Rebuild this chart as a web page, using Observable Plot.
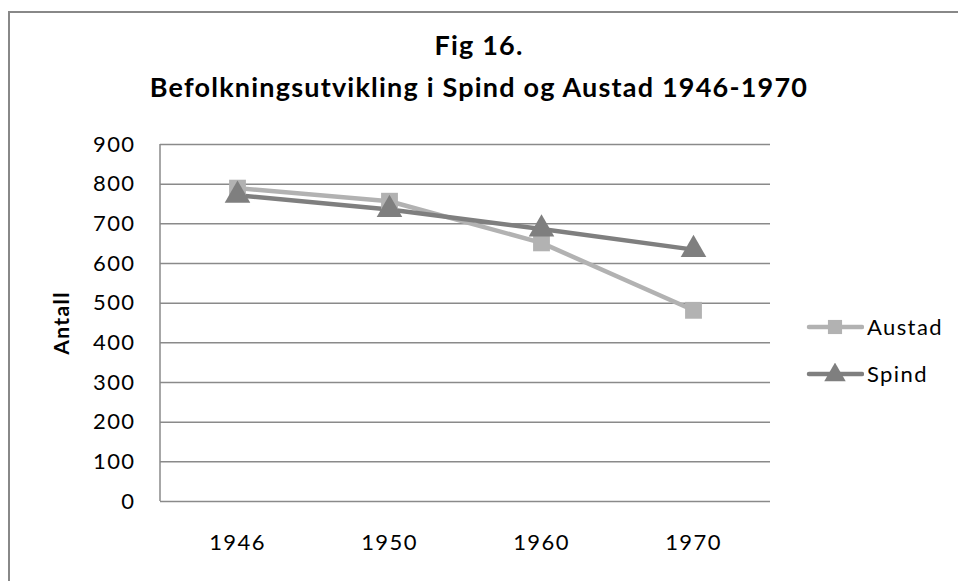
<!DOCTYPE html>
<html>
<head>
<meta charset="utf-8">
<script src="https://cdn.jsdelivr.net/npm/d3@7"></script>
<script src="https://cdn.jsdelivr.net/npm/@observablehq/plot@0.6"></script>
<style>
  html, body { margin: 0; padding: 0; background: #fff; }
  #wrap { position: relative; width: 958px; height: 581px; overflow: hidden; font-family: Lato, "Open Sans", sans-serif; }
  #frame { position: absolute; left: 8px; top: 11px; width: 1000px; height: 1000px; border-left: 2px solid #888; border-top: 2px solid #888; box-sizing: border-box; }
  #title { position: absolute; left: 0; width: 958px; top: 24px; text-align: center; font-weight: bold; font-size: 27px; letter-spacing: 1.2px; line-height: 42px; color: #000; }
  #chart { position: absolute; left: 0; top: 0; }
  #legend { position: absolute; left: 806px; top: 303px; font-size: 22px; letter-spacing: 1.4px; color: #000; }
  .lg { display: flex; align-items: center; height: 47px; }
  .lg svg { margin-right: 3px; }
</style>
</head>
<body>
<div id="wrap">
  <div id="frame"></div>
  <div id="chart"></div>
  <div id="title"></div>
  <div id="legend"></div>
</div>
<script>
const titleLines = ["Fig 16.", "Befolkningsutvikling i Spind og Austad 1946-1970"];
const years = ["1946", "1950", "1960", "1970"];
const austad = [790, 757, 652, 482];
const spind = [772, 736, 687, 635];
const seriesNames = ["Austad", "Spind"];
const seriesColors = ["#b2b2b2", "#7f7f7f"];
const seriesSymbols = ["square", "triangle"];
const yTicks = [0, 100, 200, 300, 400, 500, 600, 700, 800, 900];
const yLabel = "Antall";

const data = [];
years.forEach((y, i) => data.push({year: y, value: austad[i], series: seriesNames[0]}));
years.forEach((y, i) => data.push({year: y, value: spind[i], series: seriesNames[1]}));

document.getElementById("title").innerHTML = titleLines.map(t => `<div>${t}</div>`).join("");

const chart = Plot.plot({
  width: 958,
  height: 581,
  marginLeft: 160,
  marginRight: 188,
  marginTop: 144,
  marginBottom: 80,
  style: {background: "transparent", fontFamily: "Lato, 'Open Sans', sans-serif", fontSize: "22px", color: "#000", letterSpacing: "1.4px"},
  x: {type: "point", domain: years, padding: 0.5, label: null},
  y: {domain: [0, 900], ticks: yTicks, label: null},
  color: {domain: seriesNames, range: seriesColors},
  symbol: {domain: seriesNames, range: seriesSymbols},
  marks: [
    Plot.gridY(yTicks, {stroke: "#8a8a8a", strokeOpacity: 1, strokeWidth: 1.5}),
    Plot.axisY({ticks: yTicks, tickSize: 0, tickPadding: 25, fontSize: 22, fill: "#000", label: null}),
    Plot.axisX({tickSize: 0, tickPadding: 33, fontSize: 22, fill: "#000", label: null}),
    Plot.text([yLabel], {frameAnchor: "left", dx: -98, rotate: -90, textAnchor: "middle", fontWeight: "bold", fontSize: 21, fill: "#000"}),
    Plot.line(data, {x: "year", y: "value", z: "series", stroke: "series", strokeWidth: 4.5, curve: "linear"}),
    Plot.dot(data, {x: "year", y: "value", symbol: "series", fill: "series", r: 9.5, stroke: "none"})
  ]
});
document.getElementById("chart").appendChild(chart);

// vertical left axis line of the plot area
const svg = d3.select(chart);
svg.append("line")
  .attr("x1", 160).attr("x2", 160).attr("y1", 144).attr("y2", 501)
  .attr("stroke", "#8a8a8a").attr("stroke-width", 1.5);

const legend = document.getElementById("legend");
seriesNames.forEach((name, i) => {
  const row = document.createElement("div");
  row.className = "lg";
  const sym = d3.symbol(seriesSymbols[i] === "square" ? d3.symbolSquare : d3.symbolTriangle, 200)();
  row.innerHTML = `<svg width="58" height="22"><line x1="3" x2="56" y1="11" y2="11" stroke="${seriesColors[i]}" stroke-width="4.5" stroke-linecap="round"/><path d="${sym}" transform="translate(29,${seriesSymbols[i] === "triangle" ? 12 : 11})" fill="${seriesColors[i]}"/></svg><span>${name}</span>`;
  legend.appendChild(row);
});
</script>
</body>
</html>
